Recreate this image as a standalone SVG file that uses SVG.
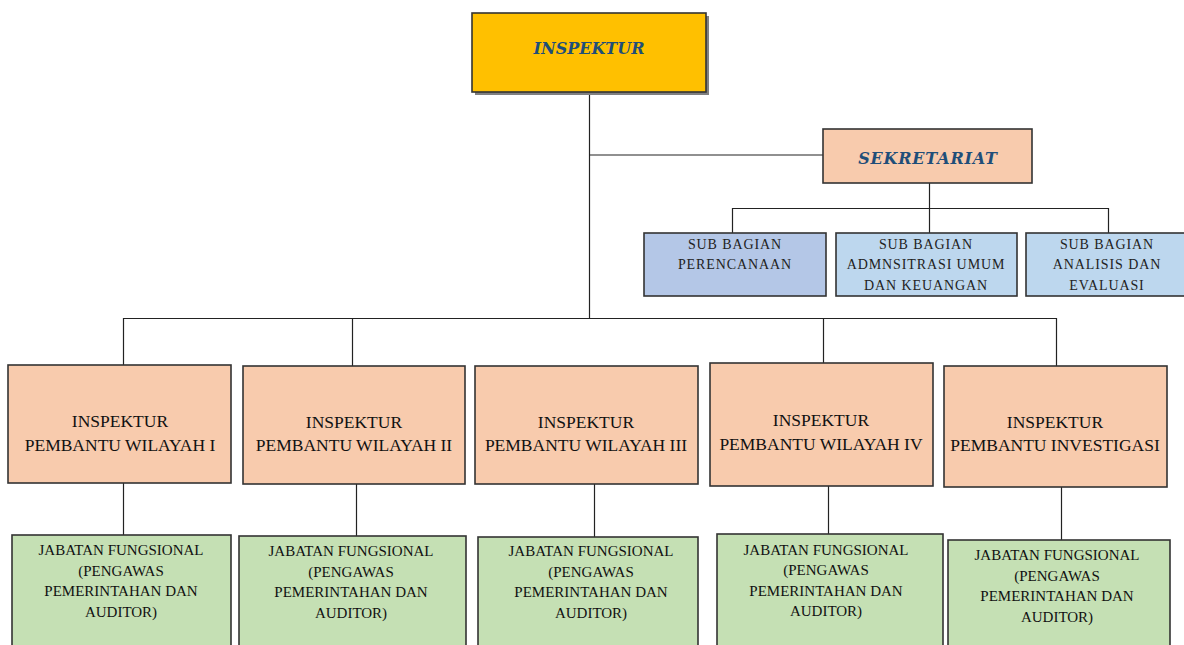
<svg xmlns="http://www.w3.org/2000/svg" width="1184" height="645" viewBox="0 0 1184 645">
<defs>
<style>
.box{stroke:#333333;stroke-width:1.6}
.head{font-family:"DejaVu Serif",serif;font-weight:bold;font-style:italic;font-size:16px;fill:#1f4e79;text-anchor:middle}
.sub{font-family:"Liberation Serif",serif;font-size:14px;fill:#222;text-anchor:middle;letter-spacing:0.9px}
.ip{font-family:"Liberation Serif",serif;font-size:17.5px;fill:#111;text-anchor:middle}
.jf{font-family:"Liberation Serif",serif;font-size:15px;fill:#111;text-anchor:middle}
.peach{fill:#f8cbad}
.green{fill:#c5e0b4}
.conn{stroke:#222;stroke-width:1.2;fill:none}
</style>
</defs>
<rect width="1184" height="645" fill="#ffffff"/>
<g id="connectors" class="conn">
<path d="M589.5 92V318"/>
<path d="M589.5 155H823"/>
<path d="M929.5 183V243"/>
<path d="M732.5 233V208.5H1108.5V233"/>
<path d="M123.5 365V318.5H1056.5V366"/>
<path d="M352.5 318V366"/>
<path d="M823.5 318V363"/>
<path d="M123.5 483V535"/>
<path d="M356.5 484V536"/>
<path d="M594.5 484V537"/>
<path d="M828.5 486V534"/>
<path d="M1061.5 487V540"/>
</g>
<g id="inspektur">
<rect x="475" y="16" width="234" height="79" fill="#808080"/>
<rect class="box" x="472" y="13" width="234" height="79" fill="#ffc000"/>
<text class="head" x="589" y="54">INSPEKTUR</text>
</g>
<g id="sekretariat">
<rect class="box peach" x="823" y="129" width="209" height="54"/>
<text class="head" x="928" y="164" style="letter-spacing:0.8px">SEKRETARIAT</text>
</g>
<g id="sub-perencanaan">
<rect class="box" x="644" y="233" width="182" height="63" fill="#b4c7e7"/>
<text class="sub" x="735" y="249">SUB BAGIAN</text>
<text class="sub" x="735" y="269">PERENCANAAN</text>
</g>
<g id="sub-umum">
<rect class="box" x="836" y="233" width="181" height="63" fill="#bdd7ee"/>
<text class="sub" x="926" y="249">SUB BAGIAN</text>
<text class="sub" x="926" y="269">ADMNSITRASI UMUM</text>
<text class="sub" x="926" y="290">DAN KEUANGAN</text>
</g>
<g id="sub-evaluasi">
<rect class="box" x="1026" y="233" width="160" height="63" fill="#bdd7ee"/>
<text class="sub" x="1107" y="249">SUB BAGIAN</text>
<text class="sub" x="1107" y="269">ANALISIS DAN</text>
<text class="sub" x="1107" y="290">EVALUASI</text>
</g>
<g id="ip1">
<rect class="box peach" x="8" y="365" width="223" height="118"/>
<text class="ip" x="120" y="427">INSPEKTUR</text>
<text class="ip" x="120" y="451">PEMBANTU WILAYAH I</text>
</g>
<g id="ip2">
<rect class="box peach" x="243" y="366" width="222" height="118"/>
<text class="ip" x="354" y="428">INSPEKTUR</text>
<text class="ip" x="354" y="451">PEMBANTU WILAYAH II</text>
</g>
<g id="ip3">
<rect class="box peach" x="475" y="366" width="223" height="118"/>
<text class="ip" x="586" y="428">INSPEKTUR</text>
<text class="ip" x="586" y="451">PEMBANTU WILAYAH III</text>
</g>
<g id="ip4">
<rect class="box peach" x="710" y="363" width="223" height="123"/>
<text class="ip" x="821" y="426">INSPEKTUR</text>
<text class="ip" x="821" y="450">PEMBANTU WILAYAH IV</text>
</g>
<g id="ip5">
<rect class="box peach" x="944" y="366" width="223" height="121"/>
<text class="ip" x="1055" y="428">INSPEKTUR</text>
<text class="ip" x="1055" y="451">PEMBANTU INVESTIGASI</text>
</g>
<g id="jf1">
<rect class="box green" x="12" y="535" width="219" height="115"/>
<text class="jf" x="121" y="555">JABATAN FUNGSIONAL</text>
<text class="jf" x="121" y="576">(PENGAWAS</text>
<text class="jf" x="121" y="596">PEMERINTAHAN DAN</text>
<text class="jf" x="121" y="617">AUDITOR)</text>
</g>
<g id="jf2">
<rect class="box green" x="239" y="536" width="227" height="115"/>
<text class="jf" x="351" y="556">JABATAN FUNGSIONAL</text>
<text class="jf" x="351" y="577">(PENGAWAS</text>
<text class="jf" x="351" y="597">PEMERINTAHAN DAN</text>
<text class="jf" x="351" y="618">AUDITOR)</text>
</g>
<g id="jf3">
<rect class="box green" x="478" y="537" width="220" height="115"/>
<text class="jf" x="591" y="556">JABATAN FUNGSIONAL</text>
<text class="jf" x="591" y="577">(PENGAWAS</text>
<text class="jf" x="591" y="597">PEMERINTAHAN DAN</text>
<text class="jf" x="591" y="618">AUDITOR)</text>
</g>
<g id="jf4">
<rect class="box green" x="717" y="534" width="226" height="115"/>
<text class="jf" x="826" y="555">JABATAN FUNGSIONAL</text>
<text class="jf" x="826" y="575">(PENGAWAS</text>
<text class="jf" x="826" y="596">PEMERINTAHAN DAN</text>
<text class="jf" x="826" y="616">AUDITOR)</text>
</g>
<g id="jf5">
<rect class="box green" x="948" y="540" width="222" height="115"/>
<text class="jf" x="1057" y="560">JABATAN FUNGSIONAL</text>
<text class="jf" x="1057" y="581">(PENGAWAS</text>
<text class="jf" x="1057" y="601">PEMERINTAHAN DAN</text>
<text class="jf" x="1057" y="622">AUDITOR)</text>
</g>
</svg>
